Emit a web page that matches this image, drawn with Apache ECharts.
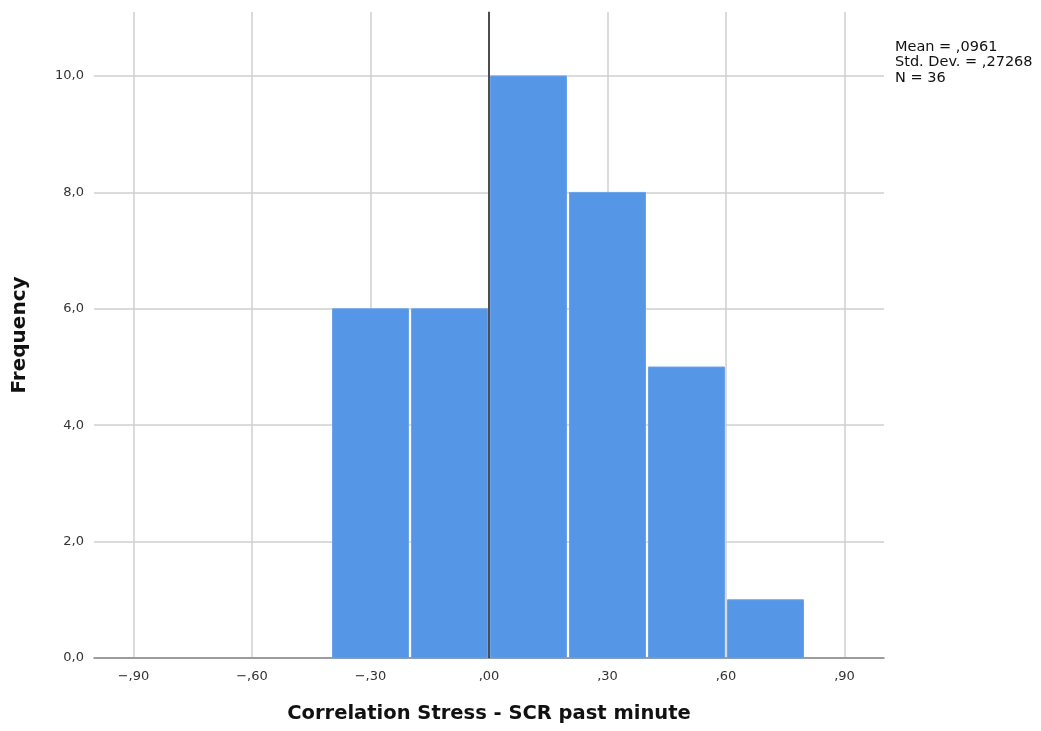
<!DOCTYPE html>
<html>
<head>
<meta charset="utf-8">
<script src="https://cdn.jsdelivr.net/npm/echarts@6/dist/echarts.min.js"></script>
<style>
  html, body { margin: 0; padding: 0; background: #fff; }
  #chart { width: 1041px; height: 731px; }
</style>
</head>
<body>
<div id="chart"></div>
<script>
// Histogram bins: lower edge, upper edge, frequency
const binStarts = [-0.4, -0.2, 0.0, 0.2, 0.4, 0.6];
const binEnds = [-0.2, 0.0, 0.2, 0.4, 0.6, 0.8];
const frequencies = [6, 6, 10, 8, 5, 1];
const xTicks = [-0.9, -0.6, -0.3, 0.0, 0.3, 0.6, 0.9];
const yTicks = [0, 2, 4, 6, 8, 10];
const statsLines = ['Mean = ,0961', 'Std. Dev. = ,27268', 'N = 36'];

// SPSS-style number format: comma decimal, no leading zero
function fmtX(v) {
  const s = Math.abs(v).toFixed(2).replace(/^0/, '').replace('.', ',');
  return (v < -1e-9 ? '\u2212' : '') + s;
}
function fmtY(v) {
  return v.toFixed(1).replace('.', ',');
}

const binData = binStarts.map((s, i) => [s, binEnds[i], frequencies[i]]);

const chart = echarts.init(document.getElementById('chart'));
const font = '"DejaVu Sans", sans-serif';

chart.setOption({
  animation: false,
  grid: { left: 94, right: 157, top: 12, bottom: 73 },
  xAxis: {
    type: 'value',
    min: -1,
    max: 1,
    name: 'Correlation Stress - SCR past minute',
    nameLocation: 'middle',
    nameGap: 46,
    nameTextStyle: { fontFamily: font, fontSize: 19.5, fontWeight: 'bold', color: '#111' },
    axisLine: { show: true, onZero: false, lineStyle: { color: '#888', width: 1.5 } },
    axisTick: { show: false, customValues: xTicks },
    axisLabel: { customValues: xTicks, formatter: fmtX, fontFamily: font, fontSize: 13, color: '#333', margin: 12 },
    splitLine: { show: true, lineStyle: { color: '#cfcfcf', width: 1.5 } }
  },
  yAxis: {
    type: 'value',
    min: 0,
    max: 11.1,
    name: 'Frequency',
    nameLocation: 'middle',
    nameGap: 64,
    nameTextStyle: { fontFamily: font, fontSize: 20, fontWeight: 'bold', color: '#111' },
    axisLine: { show: true, lineStyle: { color: '#888', width: 1.5 } },
    axisTick: { show: false, customValues: yTicks },
    axisLabel: { customValues: yTicks, formatter: fmtY, fontFamily: font, fontSize: 13, color: '#333', margin: 10 },
    splitLine: { show: true, lineStyle: { color: '#cfcfcf', width: 1.5 } }
  },
  graphic: [{
    type: 'text',
    left: 895,
    top: 39,
    style: {
      text: statsLines.join('\n'),
      fontFamily: font,
      fontSize: 14.5,
      lineHeight: 15.5,
      fill: '#111'
    }
  }],
  series: [{
    type: 'custom',
    data: binData,
    encode: { x: [0, 1], y: 2 },
    renderItem: function (params, api) {
      const p0 = api.coord([api.value(0), api.value(2)]);
      const p1 = api.coord([api.value(1), 0]);
      return {
        type: 'rect',
        shape: { x: p0[0] + 1.5, y: p0[1], width: p1[0] - p0[0] - 3, height: p1[1] - p0[1] },
        style: { fill: '#5596e6', stroke: '#6aa3ea', lineWidth: 1 }
      };
    },
    markLine: {
      silent: true,
      symbol: 'none',
      label: { show: false },
      lineStyle: { color: '#333', width: 1.5, type: 'solid' },
      data: [{ xAxis: 0 }]
    },
    z: 3
  }]
});
</script>
</body>
</html>
